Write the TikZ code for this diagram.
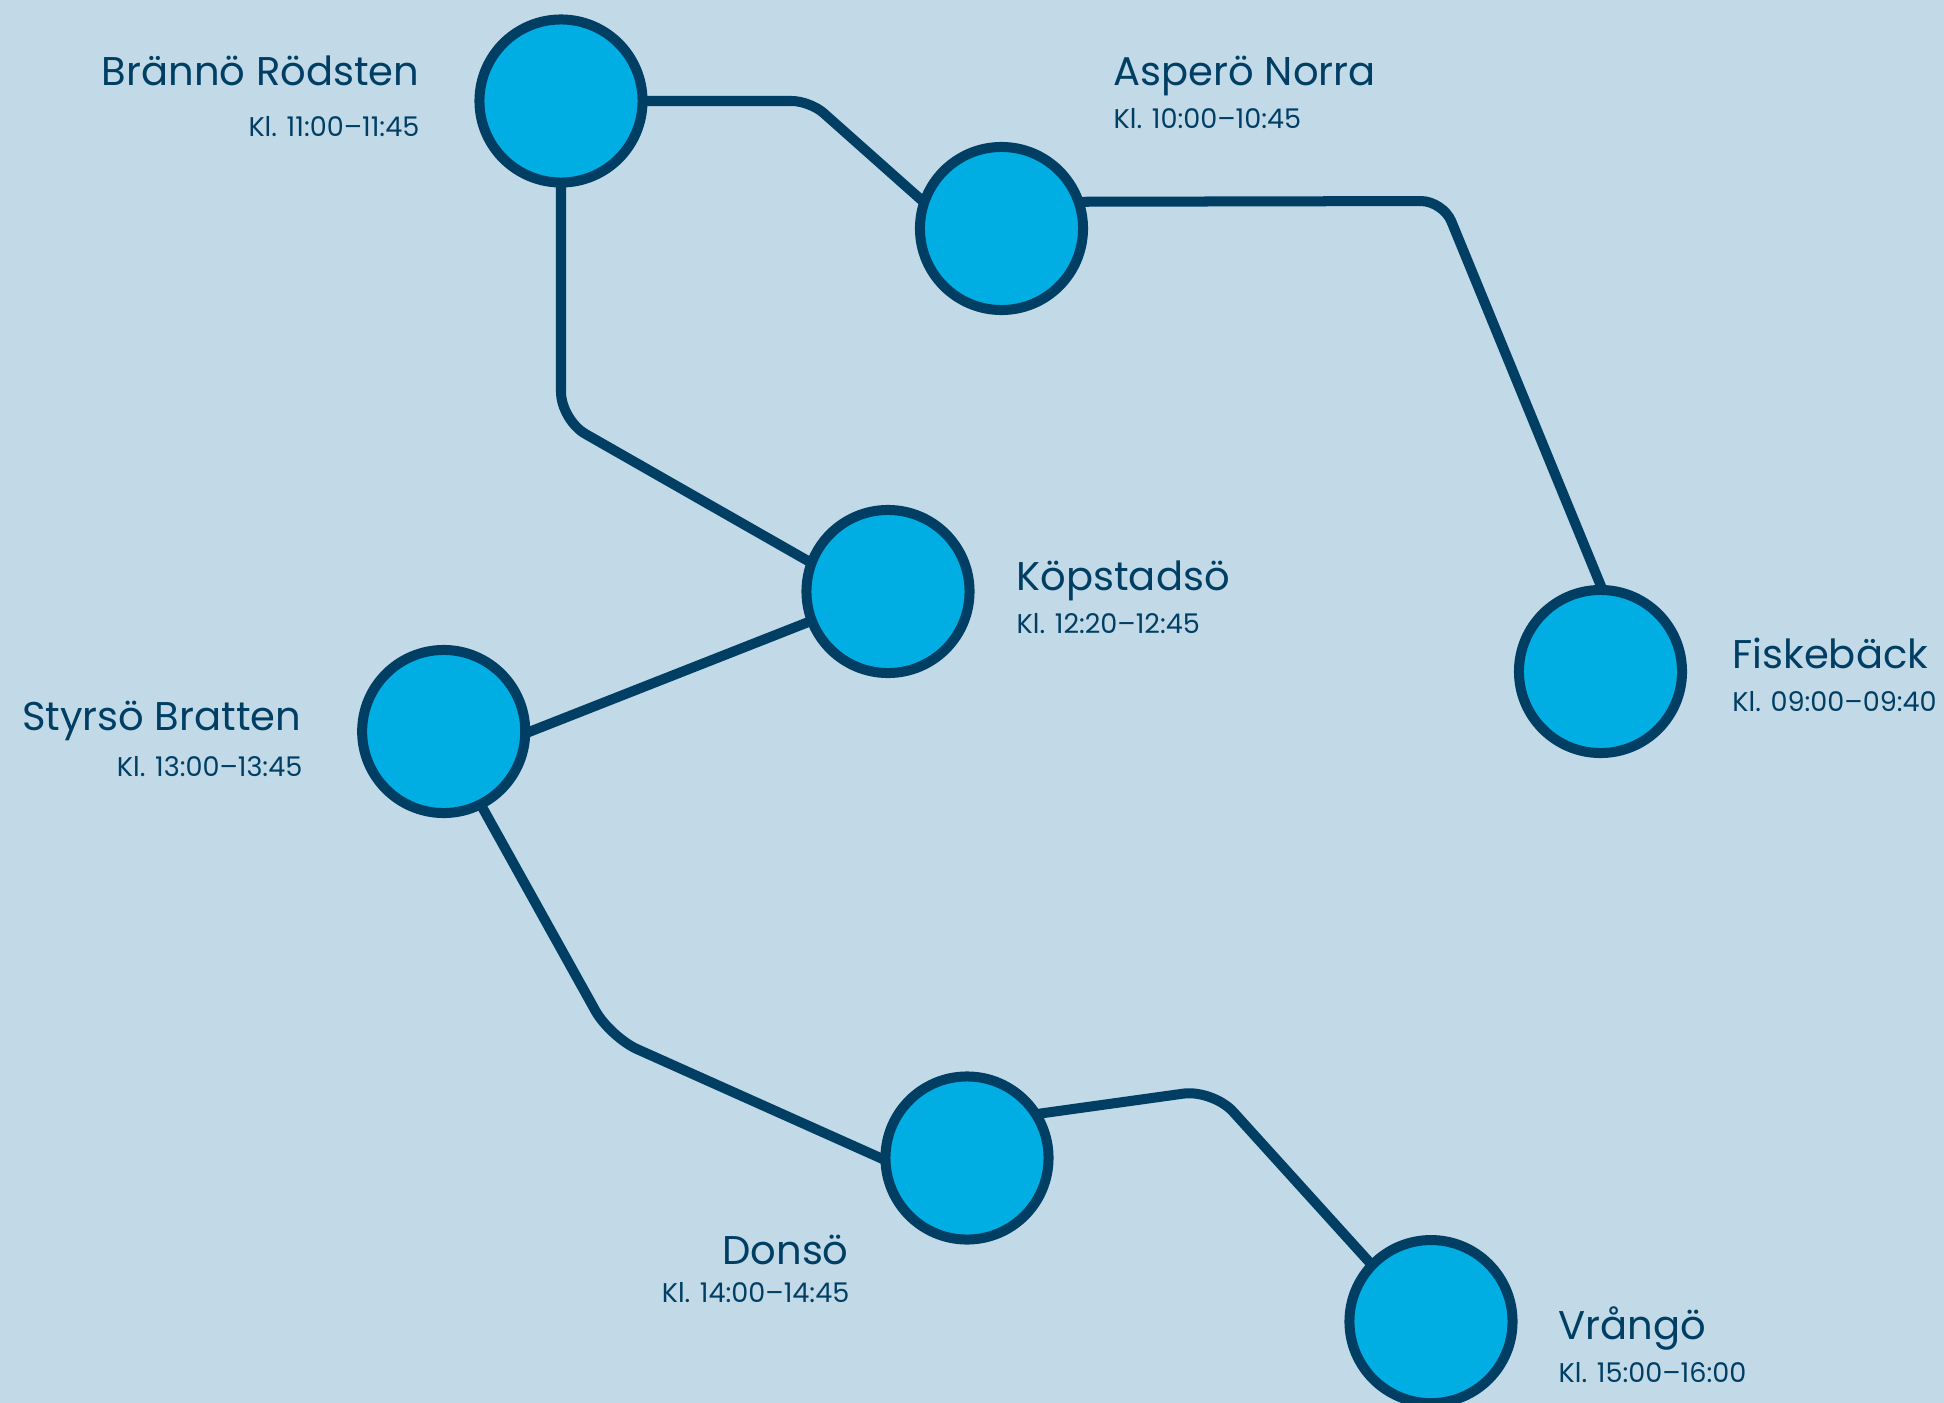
\documentclass[tikz,border=0pt]{standalone}
\usepackage{fontspec}
\setmainfont{Poppins}
\definecolor{bgblue}{HTML}{C2D9E7}
\definecolor{navy}{HTML}{003F64}
\definecolor{stopcyan}{HTML}{00AEE4}
\pgfdeclarelayer{bg}
\pgfsetlayers{bg,main}
\tikzset{
  stop/.style={circle, draw=navy, fill=stopcyan, line width=0.1cm, minimum size=1.63cm, inner sep=0pt},
  route/.style={draw=navy, line width=0.1cm, shorten <=-0.08cm, shorten >=-0.08cm},
  ttl/.style={inner sep=0pt, text=navy, font=\fontsize{11.4pt}{13pt}\selectfont},
  sub/.style={inner sep=0pt, text=navy, font=\fontsize{7.7pt}{9pt}\selectfont}
}
\begin{document}
\begin{tikzpicture}[x=0.01cm, y=-0.01cm]
\useasboundingbox (0,0) rectangle (1944,1403);

\node[stop] (B) at (561,101) {};
\node[stop] (A) at (1001.5,228.5) {};
\node[stop] (K) at (888,591.5) {};
\node[stop] (F) at (1600.5,671.5) {};
\node[stop] (S) at (443.7,731.5) {};
\node[stop] (D) at (967,1158) {};
\node[stop] (V) at (1431,1321.6) {};

\coordinate (c1) at (810,101);
\coordinate (c2) at (1443,201);
\coordinate (c3) at (561,420);
\coordinate (c5) at (610,1037);
\coordinate (c6) at (1213,1089.5);

\begin{pgfonlayer}{bg}
\fill[bgblue] (0,0) rectangle (1944,1403);
\draw[route, rounded corners=0.18cm] (B.east) -- (c1) -- (A.160);
\draw[route, rounded corners=0.22cm] (A.18.5) -- (c2) -- (F.north);
\draw[route, rounded corners=0.28cm] (B.south) -- (c3) -- (K.159);
\draw[route] (S.east) -- (K.201);
\draw[route, rounded corners=0.3cm] (S.297) -- (c5) -- (D.west);
\draw[route, rounded corners=0.3cm] (D.31) -- (c6) -- (V.136);
\end{pgfonlayer}

\node[ttl, anchor=base east] (tB) at (420,86) {Brännö Rödsten};
\node[sub, anchor=base east] (sB) at (420,136.7) {Kl. 11:00–11:45};
\node[ttl, anchor=base west] (tA) at (1113,86) {Asperö Norra};
\node[sub, anchor=base west] (sA) at (1113,128.3) {Kl. 10:00–10:45};
\node[ttl, anchor=base west] (tK) at (1016,590.7) {Köpstadsö};
\node[sub, anchor=base west] (sK) at (1016,633.3) {Kl. 12:20–12:45};
\node[ttl, anchor=base west] (tF) at (1731.7,668.3) {Fiskebäck};
\node[sub, anchor=base west] (sF) at (1731.7,711.7) {Kl. 09:00–09:40};
\node[ttl, anchor=base east] (tS) at (302,730) {Styrsö Bratten};
\node[sub, anchor=base east] (sS) at (303,776) {Kl. 13:00–13:45};
\node[ttl, anchor=base east] (tD) at (849.3,1264) {Donsö};
\node[sub, anchor=base east] (sD) at (850,1302.3) {Kl. 14:00–14:45};
\node[ttl, anchor=base west] (tV) at (1558,1339.3) {Vrångö};
\node[sub, anchor=base west] (sV) at (1558,1382.7) {Kl. 15:00–16:00};
\end{tikzpicture}
\end{document}
